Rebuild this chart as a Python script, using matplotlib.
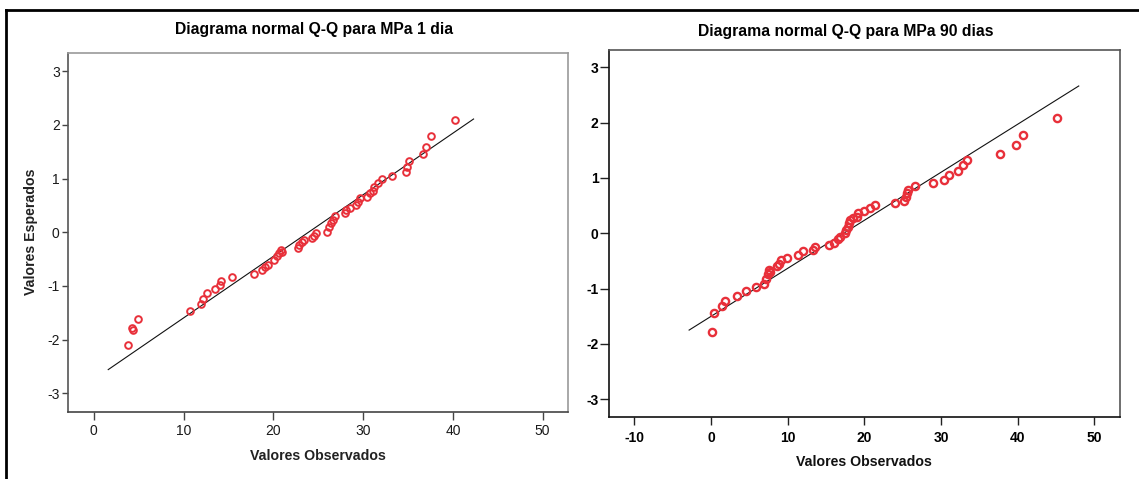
import matplotlib
matplotlib.use("Agg")
import matplotlib.pyplot as plt
from matplotlib.lines import Line2D

# ---------------- data ----------------
titles = ["Diagrama normal Q-Q para MPa 1 dia", "Diagrama normal Q-Q para MPa 90 dias"]
xlabel = "Valores Observados"
ylabel = "Valores Esperados"

obs_1dia = [3.8, 4.3, 4.4, 4.9, 10.7, 11.9, 12.2, 12.6, 13.5, 14.0, 14.2, 15.4,
            17.8, 18.7, 19.1, 19.4, 20.1, 20.4, 20.6, 20.8, 21.0, 22.7, 22.9, 23.2,
            23.4, 24.3, 24.5, 24.7, 26.0, 26.2, 26.4, 26.6, 26.9, 28.0, 28.1, 28.5,
            29.2, 29.4, 29.7, 30.4, 30.8, 31.1, 31.2, 31.6, 32.1, 33.2, 34.8, 34.9,
            35.1, 36.7, 37.0, 37.6, 40.2]
exp_1dia = [-2.10, -1.78, -1.82, -1.61, -1.46, -1.33, -1.24, -1.13, -1.05, -0.98, -0.90, -0.84,
            -0.78, -0.71, -0.65, -0.61, -0.51, -0.45, -0.39, -0.34, -0.37, -0.30, -0.24, -0.19,
            -0.15, -0.11, -0.07, -0.02, 0.01, 0.10, 0.17, 0.23, 0.30, 0.35, 0.42, 0.45,
            0.51, 0.57, 0.63, 0.66, 0.73, 0.77, 0.85, 0.91, 0.99, 1.05, 1.13, 1.22,
            1.33, 1.46, 1.59, 1.79, 2.10]
line_1dia_x = [1.6, 42.3]
line_1dia_y = [-2.56, 2.11]

obs_90dias = [0.07, 0.45, 1.49, 1.87, 3.43, 4.61, 5.89, 6.93, 7.16, 7.40, 7.54, 7.64,
              8.58, 8.82, 9.15, 9.9, 11.28, 11.94, 13.31, 13.59, 15.39, 16.05, 16.62,
              16.86, 17.42, 17.66, 17.85, 17.94, 18.13, 18.51, 18.98, 19.2, 20.0, 20.78,
              21.35, 24.04, 25.22, 25.37, 25.5, 25.74, 26.64, 28.96, 30.33, 31.09, 32.22,
              32.93, 33.40, 37.66, 39.79, 40.73, 45.18]
exp_90dias = [-1.78, -1.45, -1.32, -1.22, -1.13, -1.05, -0.97, -0.91, -0.82, -0.74, -0.66, -0.70,
              -0.60, -0.55, -0.48, -0.44, -0.39, -0.33, -0.30, -0.24, -0.21, -0.17, -0.11,
              -0.06, 0.00, 0.06, 0.12, 0.18, 0.24, 0.28, 0.30, 0.36, 0.41, 0.45,
              0.51, 0.55, 0.59, 0.66, 0.72, 0.78, 0.85, 0.90, 0.96, 1.05, 1.13,
              1.23, 1.32, 1.44, 1.60, 1.78, 2.09]
line_90dias_x = [-2.86, 47.97]
line_90dias_y = [-1.75, 2.66]

xticks_1 = [0, 10, 20, 30, 40, 50]
xticks_2 = [-10, 0, 10, 20, 30, 40, 50]
yticks = [-3, -2, -1, 0, 1, 2, 3]

# ---------------- figure ----------------
plt.rcParams['font.family'] = ['Liberation Sans', 'DejaVu Sans']
plt.rcParams['axes.unicode_minus'] = False
W, H = 1139, 479
fig = plt.figure(figsize=(W / 100, H / 100), dpi=100)

red = '#e8303a'

def px_axes(l, t, r, b):
    return fig.add_axes([l / W, 1 - b / H, (r - l) / W, (b - t) / H])

ax1 = px_axes(68, 53, 568, 412)
ax2 = px_axes(609, 50, 1120, 417)

# left panel
ax1.plot(line_1dia_x, line_1dia_y, color='#111111', lw=0.8, zorder=2)
ax1.plot(obs_1dia, exp_1dia, 'o', mfc='none', mec=red, mew=1.4, ms=4.8, zorder=3)
ax1.set_xlim(-2.88, 52.82)
ax1.set_ylim(-3.35, 3.34)
ax1.set_xticks(xticks_1)
ax1.set_yticks(yticks)
ax1.tick_params(axis='x', length=5.5, width=1.0, pad=3, labelsize=10, colors='#444444',
                labelcolor='#1a1a1a')
ax1.tick_params(axis='y', length=4, width=1.0, pad=2, labelsize=10, colors='#444444',
                labelcolor='#1a1a1a')
ax1.spines['left'].set_color('#555555')
ax1.spines['bottom'].set_color('#444444')
ax1.spines['top'].set_color('#9a9a9a')
ax1.spines['right'].set_color('#9a9a9a')
for s in ax1.spines.values():
    s.set_linewidth(1.2)

# right panel
ax2.plot(line_90dias_x, line_90dias_y, color='#111111', lw=0.8, zorder=2)
ax2.plot(obs_90dias, exp_90dias, 'o', mfc='none', mec=red, mew=1.7, ms=5.2, zorder=3)
ax2.set_xlim(-13.31, 53.35)
ax2.set_ylim(-3.32, 3.31)
ax2.set_xticks(xticks_2)
ax2.set_yticks(yticks)
ax2.tick_params(axis='x', length=5.5, width=1.0, pad=4.5, labelsize=10, colors='#222222',
                labelcolor='black')
ax2.tick_params(axis='y', length=6.5, width=1.0, pad=1, labelsize=10, colors='#222222',
                labelcolor='black')
for lab in ax2.get_xticklabels() + ax2.get_yticklabels():
    lab.set_fontweight('bold')
ax2.xaxis.get_major_ticks()[1].tick1line.set_color('#bbbbbb')
ax2.spines['left'].set_color('#111111')
ax2.spines['bottom'].set_color('#111111')
ax2.spines['top'].set_color('#555555')
ax2.spines['right'].set_color('#555555')
for s in ax2.spines.values():
    s.set_linewidth(1.2)

# titles and labels
fig.text(314 / W, 1 - 29.3 / H, titles[0], ha='center', va='center',
         fontsize=11.3, fontweight='bold')
fig.text(845.6 / W, 1 - 31.7 / H, titles[1], ha='center', va='center',
         fontsize=11.3, fontweight='bold')
fig.text(318 / W, 1 - 455.7 / H, xlabel, ha='center', va='center',
         fontsize=10.2, fontweight='bold', color='#222222')
fig.text(864.3 / W, 1 - 461.7 / H, xlabel, ha='center', va='center',
         fontsize=10.2, fontweight='bold', color='#111111')
fig.text(31.4 / W, 1 - 231.7 / H, ylabel, ha='center', va='center', rotation=90,
         fontsize=10.2, fontweight='bold', color='#222222')

# outer frame (partial, cut by image edges)
fig.add_artist(Line2D([6 / W, 1.0], [1 - 9.5 / H, 1 - 9.5 / H],
                      transform=fig.transFigure, color='black', lw=2.0))
fig.add_artist(Line2D([6 / W, 6 / W], [1 - 9.5 / H, 0.0],
                      transform=fig.transFigure, color='black', lw=2.0))

fig.savefig('out.png', dpi=100)
